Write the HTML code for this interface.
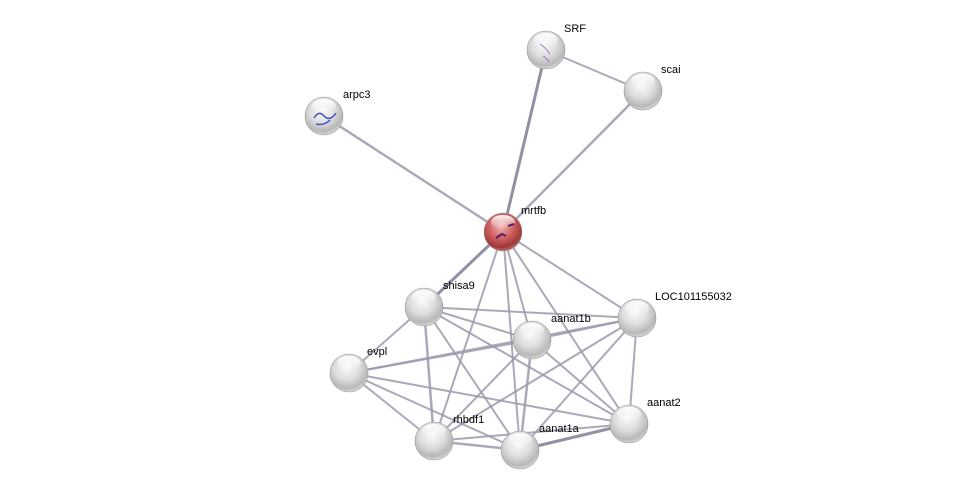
<!DOCTYPE html>
<html><head><meta charset="utf-8"><style>
html,body{margin:0;padding:0;background:#fff;}
svg{display:block}
text{font-family:"Liberation Sans",sans-serif;font-size:11px;fill:#000}
</style></head><body>
<svg width="975" height="495" viewBox="0 0 975 495" xmlns="http://www.w3.org/2000/svg">
<defs>
<radialGradient id="g" cx="45%" cy="35%" r="65%">
<stop offset="0" stop-color="#fafafa"/><stop offset="0.5" stop-color="#dedede"/><stop offset="0.85" stop-color="#b8b8b8"/><stop offset="1" stop-color="#d8d8d8"/>
</radialGradient>
<radialGradient id="r" cx="45%" cy="35%" r="65%">
<stop offset="0" stop-color="#f0b8b8"/><stop offset="0.5" stop-color="#d06060"/><stop offset="0.85" stop-color="#a03838"/><stop offset="1" stop-color="#c06a6a"/>
</radialGradient>
<linearGradient id="h" x1="0" y1="0" x2="0" y2="1">
<stop offset="0" stop-color="#fff" stop-opacity="0.95"/><stop offset="1" stop-color="#fff" stop-opacity="0"/>
</linearGradient>
</defs>
<g stroke="#9a9aad" stroke-width="2" stroke-opacity="0.85">
<line x1="546" y1="50" x2="643" y2="91"/>
<line x1="546" y1="50" x2="503" y2="232" stroke-width="3" stroke="#7e7e94"/>
<line x1="643" y1="91" x2="503" y2="232" stroke-width="2.5"/>
<line x1="324" y1="116" x2="503" y2="232" stroke-width="2.5"/>
<line x1="503" y1="232" x2="424" y2="307" stroke-width="3" stroke="#7e7e94"/>
<line x1="503" y1="232" x2="637" y2="318"/>
<line x1="503" y1="232" x2="532" y2="340"/>
<line x1="503" y1="232" x2="520" y2="450"/>
<line x1="503" y1="232" x2="629" y2="424"/>
<line x1="503" y1="232" x2="434" y2="441"/>
<line x1="424" y1="307" x2="349" y2="373"/>
<line x1="424" y1="307" x2="532" y2="340"/>
<line x1="424" y1="307" x2="637" y2="318"/>
<line x1="424" y1="307" x2="629" y2="424"/>
<line x1="424" y1="307" x2="434" y2="441" stroke-width="2.5"/>
<line x1="424" y1="307" x2="520" y2="450"/>
<line x1="349" y1="373" x2="637" y2="318"/>
<line x1="349" y1="373" x2="532" y2="340"/>
<line x1="349" y1="373" x2="629" y2="424"/>
<line x1="349" y1="373" x2="434" y2="441"/>
<line x1="349" y1="373" x2="520" y2="450"/>
<line x1="532" y1="340" x2="520" y2="450" stroke-width="2.5"/>
<line x1="532" y1="340" x2="629" y2="424"/>
<line x1="532" y1="340" x2="637" y2="318"/>
<line x1="532" y1="340" x2="434" y2="441"/>
<line x1="637" y1="318" x2="629" y2="424"/>
<line x1="637" y1="318" x2="434" y2="441"/>
<line x1="637" y1="318" x2="520" y2="450"/>
<line x1="629" y1="424" x2="520" y2="450" stroke-width="3" stroke="#7e7e94"/>
<line x1="629" y1="424" x2="434" y2="441"/>
<line x1="434" y1="441" x2="520" y2="450" stroke-width="2.5"/>
</g>
<g stroke="#999" stroke-width="0.6">
<circle cx="546" cy="50" r="19" fill="url(#g)"/>
<circle cx="643" cy="91" r="19" fill="url(#g)"/>
<circle cx="324" cy="116" r="19" fill="url(#g)"/>
<circle cx="503" cy="232" r="19" fill="url(#r)"/>
<circle cx="424" cy="307" r="19" fill="url(#g)"/>
<circle cx="637" cy="318" r="19" fill="url(#g)"/>
<circle cx="532" cy="340" r="19" fill="url(#g)"/>
<circle cx="349" cy="373" r="19" fill="url(#g)"/>
<circle cx="629" cy="424" r="19" fill="url(#g)"/>
<circle cx="434" cy="441" r="19" fill="url(#g)"/>
<circle cx="520" cy="450" r="19" fill="url(#g)"/>
</g>
<g fill="url(#h)">
<ellipse cx="546" cy="40" rx="12" ry="7"/>
<ellipse cx="643" cy="81" rx="12" ry="7"/>
<ellipse cx="324" cy="106" rx="12" ry="7"/>
<ellipse cx="503" cy="222" rx="12" ry="7"/>
<ellipse cx="424" cy="297" rx="12" ry="7"/>
<ellipse cx="637" cy="308" rx="12" ry="7"/>
<ellipse cx="532" cy="330" rx="12" ry="7"/>
<ellipse cx="349" cy="363" rx="12" ry="7"/>
<ellipse cx="629" cy="414" rx="12" ry="7"/>
<ellipse cx="434" cy="431" rx="12" ry="7"/>
<ellipse cx="520" cy="440" rx="12" ry="7"/>
</g>
<path d="M314 118 q5 -8 10 -2 q6 6 12 -3 M316 124 q8 2 14 -4" stroke="#4050c0" stroke-width="1.5" fill="none"/>
<path d="M540 44 q6 4 10 10 M543 56 q4 2 6 6" stroke="#a070c0" stroke-width="1" fill="none"/>
<path d="M496 238 l6 -4 l4 2 M508 226 l6 -2" stroke="#502060" stroke-width="2" fill="none"/>
<text x="564" y="32">SRF</text>
<text x="661" y="73">scai</text>
<text x="343" y="98">arpc3</text>
<text x="521" y="214">mrtfb</text>
<text x="443" y="289">shisa9</text>
<text x="655" y="300">LOC101155032</text>
<text x="551" y="322">aanat1b</text>
<text x="367" y="355">evpl</text>
<text x="647" y="406">aanat2</text>
<text x="453" y="423">rhbdf1</text>
<text x="539" y="432">aanat1a</text>
</svg>
</body></html>
